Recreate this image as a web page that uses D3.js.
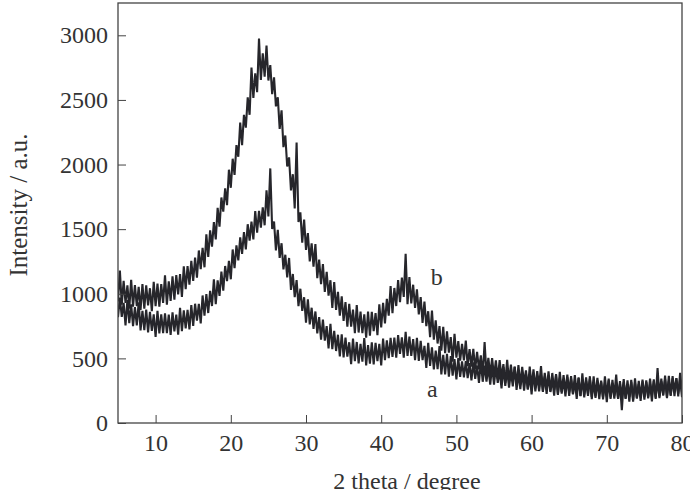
<!DOCTYPE html>
<html>
<head>
<meta charset="utf-8">
<script src="https://cdn.jsdelivr.net/npm/d3@7"></script>
<style>
  body { margin: 0; background: #fff; }
  svg text { font-family: 'Liberation Serif', 'Times New Roman', Times, serif; fill: #333; }
</style>
</head>
<body>
<div id="chart"></div>
<script>
// measured 2 theta grid: 5 to 80 degrees every 0.25
var angles = d3.range(5, 80.001, 0.25);

// sample b (raw counts, noise band low/high alternating)
var sampleB = [
  940,1180, 915,1100, 930,1065, 885,1108, 900,1068, 905,1053, 875,1075, 885,1065, 910,1043, 865,1093,
  905,1078, 900,1075, 930,1143, 915,1097, 945,1135, 955,1145, 995,1152, 975,1213, 1035,1215, 1070,1255,
  1100,1280, 1125,1335, 1190,1355, 1205,1460, 1285,1490, 1365,1555, 1420,1665, 1520,1745, 1635,1815, 1685,1960,
  1820,2045, 1920,2150, 2060,2325, 2150,2385, 2285,2520, 2385,2750, 2515,2705, 2560,2975, 2655,2860, 2680,2920,
  2650,2770, 2545,2675, 2450,2520, 2275,2420, 2135,2225, 1985,2055, 1800,1925, 1660,2170, 1555,1630, 1395,1575,
  1340,1470, 1250,1390, 1210,1385, 1120,1265, 1075,1230, 1015,1170, 985,1105, 890,1090, 875,1015, 830,980,
  790,935, 745,923, 745,878, 695,912, 700,863, 695,840, 660,862, 675,860, 710,850, 680,918,
  740,930, 770,960, 830,1060, 850,1045, 905,1105, 935,1125, 975,1310, 920,1130, 925,1070, 890,1035,
  840,975, 775,940, 750,865, 665,870, 645,795, 615,750, 560,745, 540,710, 545,665, 475,690,
  506,634, 483,612, 484,638, 440,572, 437,574, 414,550, 415,524, 364,626, 377,504, 371,502,
  361,484, 339,486, 349,456, 311,488, 320,452, 320,436, 292,448, 293,434, 306,407, 260,437,
  282,415, 269,402, 280,441, 251,388, 258,399, 245,387, 257,371, 217,395, 241,371, 241,375,
  237,363, 221,371, 238,348, 207,385, 220,354, 225,343, 202,361, 208,350, 225,328, 183,361,
  208,343, 198,333, 212,375, 186,325, 196,339, 187,330, 202,318, 166,346, 194,326, 199,335,
  200,329, 190,343, 212,326, 187,425, 206,344, 218,340, 202,364, 215,362, 240,347, 205,388,
  238
];

// sample a
var sampleA = [
  819,971, 821,929, 756,951, 773,919, 749,896, 755,934, 716,868, 718,877, 701,860, 712,840,
  667,868, 694,841, 696,848, 695,839, 682,856, 709,838, 683,891, 711,871, 732,875, 725,913,
  751,923, 793,922, 771,987, 830,998, 851,1022, 905,1111, 920,1103, 983,1171, 1024,1215, 1097,1255,
  1112,1343, 1198,1374, 1258,1436, 1308,1477, 1344,1538, 1412,1558, 1420,1640, 1473,1642, 1512,1668, 1530,1800,
  1599,1970, 1501,1559, 1336,1494, 1278,1391, 1189,1302, 1127,1277, 1030,1153, 973,1106, 904,1039, 867,973,
  777,957, 763,892, 728,863, 693,820, 644,801, 637,749, 577,768, 571,713, 557,683, 515,686,
  507,661, 514,625, 456,654, 478,627, 462,612, 475,658, 445,603, 459,624, 454,620, 478,613,
  446,653, 486,640, 501,659, 511,660, 506,681, 535,662, 505,706, 519,669, 520,650, 486,659,
  481,635, 487,597, 426,621, 441,585, 415,560, 417,595, 376,528, 377,535, 358,517, 367,494,
  337,503, 356,476, 353,478, 347,464, 330,469, 342,445, 310,476, 319,444, 321,430, 296,443,
  297,430, 310,405, 267,433, 287,412, 273,398, 283,435, 256,384, 262,395, 250,382, 260,367,
  222,389, 244,366, 244,370, 240,358, 225,365, 240,344, 211,378, 223,349, 228,338, 206,354,
  210,344, 226,322, 186,353, 209,335, 198,324, 210,362, 185,315, 194,328, 185,319, 198,306,
  162,330, 186,309, 188,315, 186,305, 100,315, 191,297, 165,334, 180,308, 189,301, 171,322,
  180,317, 201,300, 167,337, 196,326, 192,322, 211,367, 193,326, 209,346, 207,345, 228,340,
  200
];

var xTicks = [10, 20, 30, 40, 50, 60, 70, 80];
var yTicks = [0, 500, 1000, 1500, 2000, 2500, 3000];

var curveLabels = [
  {name: 'b', angle: 47.4, value: 1065},
  {name: 'a', angle: 46.8, value: 200}
];

// set the dimensions and margins of the graph
var margin = {top: 3, right: 8, bottom: 67, left: 118},
    width = 690 - margin.left - margin.right,
    height = 490 - margin.top - margin.bottom;

var x = d3.scaleLinear().domain([5, 80]).range([0, width]);
var y = d3.scaleLinear().domain([0, 3250]).range([height, 0]);

var svg = d3.select('#chart').append('svg')
    .attr('width', 690)
    .attr('height', 490)
  .append('g')
    .attr('transform', 'translate(' + margin.left + ',' + margin.top + ')');

svg.append('clipPath')
    .attr('id', 'plot-clip')
  .append('rect')
    .attr('width', width)
    .attr('height', height);

var noisyLine = d3.line()
    .x(function(d, i) { return x(angles[i]); })
    .y(function(d) { return y(d); });

[sampleB, sampleA].forEach(function(series) {
  svg.append('path')
      .datum(series)
      .attr('clip-path', 'url(#plot-clip)')
      .attr('fill', 'none')
      .attr('stroke', '#26262b')
      .attr('stroke-width', 2.1)
      .attr('stroke-linejoin', 'bevel')
      .attr('d', noisyLine);
});

// axes, ticks pointing inwards
svg.append('g')
    .attr('transform', 'translate(0,' + height + ')')
    .call(d3.axisBottom(x).tickValues(xTicks).tickFormat(d3.format('d')).tickSize(-8).tickPadding(11))
    .call(function(g) {
      g.select('.domain').remove();
      g.selectAll('line').attr('stroke', '#444');
      g.selectAll('text').attr('font-size', '24px').attr('fill', '#333');
    });

svg.append('g')
    .call(d3.axisLeft(y).tickValues(yTicks).tickFormat(d3.format('d')).tickSize(-8).tickPadding(10))
    .call(function(g) {
      g.select('.domain').remove();
      g.selectAll('line').attr('stroke', '#444');
      g.selectAll('text').attr('font-size', '24px').attr('fill', '#333');
    });

// frame
svg.append('rect')
    .attr('width', width)
    .attr('height', height)
    .attr('fill', 'none')
    .attr('stroke', '#444')
    .attr('stroke-width', 1.3);

// curve labels
svg.selectAll('.curve-label')
    .data(curveLabels)
    .enter().append('text')
    .attr('class', 'curve-label')
    .attr('x', function(d) { return x(d.angle); })
    .attr('y', function(d) { return y(d.value); })
    .attr('text-anchor', 'middle')
    .attr('font-size', '24px')
    .text(function(d) { return d.name; });

// axis titles
svg.append('text')
    .attr('x', width / 2 + 7)
    .attr('y', height + 66)
    .attr('text-anchor', 'middle')
    .attr('font-size', '24px')
    .text('2 theta / degree');

svg.append('text')
    .attr('transform', 'translate(' + (27 - margin.left) + ',' + (205 - margin.top) + ') rotate(-90)')
    .attr('text-anchor', 'middle')
    .attr('font-size', '25px')
    .text('Intensity / a.u.');
</script>
</body>
</html>
